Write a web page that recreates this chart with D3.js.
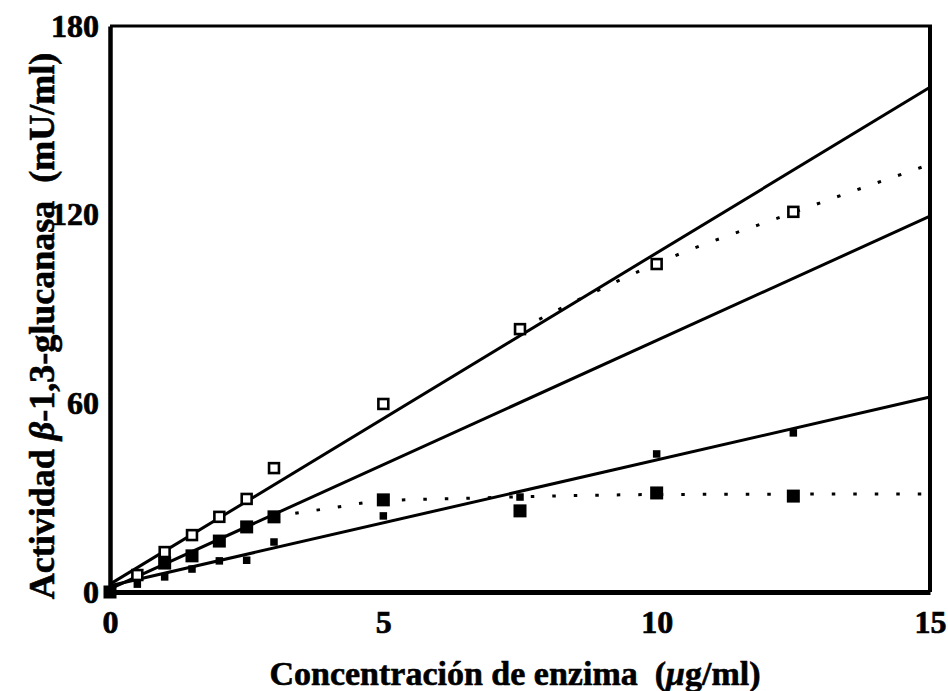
<!DOCTYPE html>
<html>
<head>
<meta charset="utf-8">
<script src="https://cdn.jsdelivr.net/npm/d3@7"></script>
<style>
  html, body { margin: 0; padding: 0; background: #fff; }
  svg { display: block; }
  text { font-family: "Liberation Serif", "Times New Roman", serif; font-weight: bold; fill: #000; }
</style>
</head>
<body>
<svg id="chart" width="948" height="691"></svg>
<script>
// Axis ticks
const xTicks = [0, 5, 10, 15];
const yTicks = [0, 60, 120, 180];

// Open squares
const concOpen = [0.5, 1, 1.5, 2, 2.5, 3, 5, 7.5, 10, 12.5];
const actOpen  = [5.4, 12.7, 18.1, 23.9, 29.6, 39.4, 59.8, 83.6, 104.3, 120.9];

// Large filled squares
const concBig = [0, 1, 1.5, 2, 2.5, 3, 5, 7.5, 10, 12.5];
const actBig  = [0, 9.2, 11.5, 16.2, 20.7, 23.9, 29.3, 25.8, 31.5, 30.5];

// Small filled squares
const concSmall = [0, 0.5, 1, 1.5, 2, 2.5, 3, 5, 7.5, 10, 12.5];
const actSmall  = [0, 2.5, 4.8, 7.3, 9.9, 10.1, 15.9, 24.2, 30.2, 43.9, 50.6];

// Linear fits (end points)
const fitX      = [0, 15];
const fitOpen   = [2.5, 160.5];
const fitBig    = [1, 119.5];
const fitSmall  = [2, 62];

// Saturation curves (dotted)
const satOpenX = [7.5, 8.6, 10, 12.5, 15];
const satOpenY = [83.6, 93.2, 104.5, 120.7, 136];
const satBigX  = [3, 4, 5, 6.5, 10, 15];
const satBigY  = [24, 26.6, 29.0, 29.8, 31.0, 31.2];

const svg = d3.select("#chart");
const plotL = 110, plotR = 930, plotT = 26, plotB = 592;

const x = d3.scaleLinear().domain([0, 15]).range([plotL, plotR]);
const y = d3.scaleLinear().domain([0, 180]).range([plotB, plotT]);

const zip = (xs, ys) => xs.map((v, i) => [v, ys[i]]);
const line = d3.line().x(d => x(d[0])).y(d => y(d[1]));
const curve = d3.line().x(d => x(d[0])).y(d => y(d[1])).curve(d3.curveMonotoneX);

const g = svg.append("g");

// Fit lines
[fitOpen, fitBig, fitSmall].forEach(ys => {
  g.append("path")
    .attr("d", line(zip(fitX, ys)))
    .attr("fill", "none")
    .attr("stroke", "#000")
    .attr("stroke-width", 3);
});

// Dotted saturation curves
[[satOpenX, satOpenY], [satBigX, satBigY]].forEach(([xs, ys]) => {
  g.append("path")
    .attr("d", curve(zip(xs, ys)))
    .attr("fill", "none")
    .attr("stroke", "#000")
    .attr("stroke-width", 3)
    .attr("stroke-dasharray", "3.5 18");
});

// Markers
const small = 7.5, big = 13, open = 12.5;
g.selectAll(".small").data(zip(concSmall, actSmall)).enter().append("rect")
  .attr("x", d => x(d[0]) - small / 2).attr("y", d => y(d[1]) - small / 2)
  .attr("width", small).attr("height", small).attr("fill", "#000");

g.selectAll(".big").data(zip(concBig, actBig)).enter().append("rect")
  .attr("x", d => x(d[0]) - big / 2).attr("y", d => y(d[1]) - big / 2)
  .attr("width", big).attr("height", big).attr("fill", "#000");

const sw = 2.6;
g.selectAll(".open").data(zip(concOpen, actOpen)).enter().append("rect")
  .attr("x", d => x(d[0]) - (open - sw) / 2).attr("y", d => y(d[1]) - (open - sw) / 2)
  .attr("width", open - sw).attr("height", open - sw)
  .attr("fill", "#fff").attr("stroke", "#000").attr("stroke-width", sw);

// Frame: top and right edges
svg.append("line").attr("x1", plotL).attr("x2", plotR + 2).attr("y1", plotT).attr("y2", plotT)
  .attr("stroke", "#000").attr("stroke-width", 3);
svg.append("line").attr("x1", plotR).attr("x2", plotR).attr("y1", plotT - 1).attr("y2", plotB)
  .attr("stroke", "#000").attr("stroke-width", 4);

// Axes
const xAxis = svg.append("g").attr("transform", `translate(0,${plotB})`)
  .call(d3.axisBottom(x).tickValues(xTicks).tickSize(0).tickPadding(18).tickSizeOuter(0));
const yAxis = svg.append("g").attr("transform", `translate(${plotL},0)`)
  .call(d3.axisLeft(y).tickValues(yTicks).tickSize(0).tickPadding(11).tickSizeOuter(0));

[xAxis, yAxis].forEach(a => {
  a.select(".domain").attr("stroke", "#000");
  a.selectAll("text").attr("font-family", "Liberation Serif, serif")
    .attr("font-weight", "bold").attr("font-size", 32).attr("fill", "#000")
    .attr("stroke", "#000").attr("stroke-width", 0.7);
});
xAxis.select(".domain").attr("stroke-width", 5);
yAxis.select(".domain").attr("stroke-width", 4.5);

// Axis titles
const xt = svg.append("text")
  .attr("x", 515).attr("y", 685)
  .attr("text-anchor", "middle")
  .attr("font-size", 34)
  .attr("stroke", "#000").attr("stroke-width", 0.6)
  .style("white-space", "pre");
xt.append("tspan").text("Concentración de enzima  (");
xt.append("tspan").attr("font-style", "italic").text("μ");
xt.append("tspan").text("g/ml)");

const yt = svg.append("text")
  .attr("transform", "translate(54,326) rotate(-90)")
  .attr("text-anchor", "middle")
  .attr("font-size", 36)
  .attr("stroke", "#000").attr("stroke-width", 0.6)
  .style("white-space", "pre");
yt.append("tspan").text("Actividad ");
yt.append("tspan").attr("font-style", "italic").text("β");
yt.append("tspan").text("-1,3-glucanasa  (mU/ml)");
</script>
</body>
</html>
